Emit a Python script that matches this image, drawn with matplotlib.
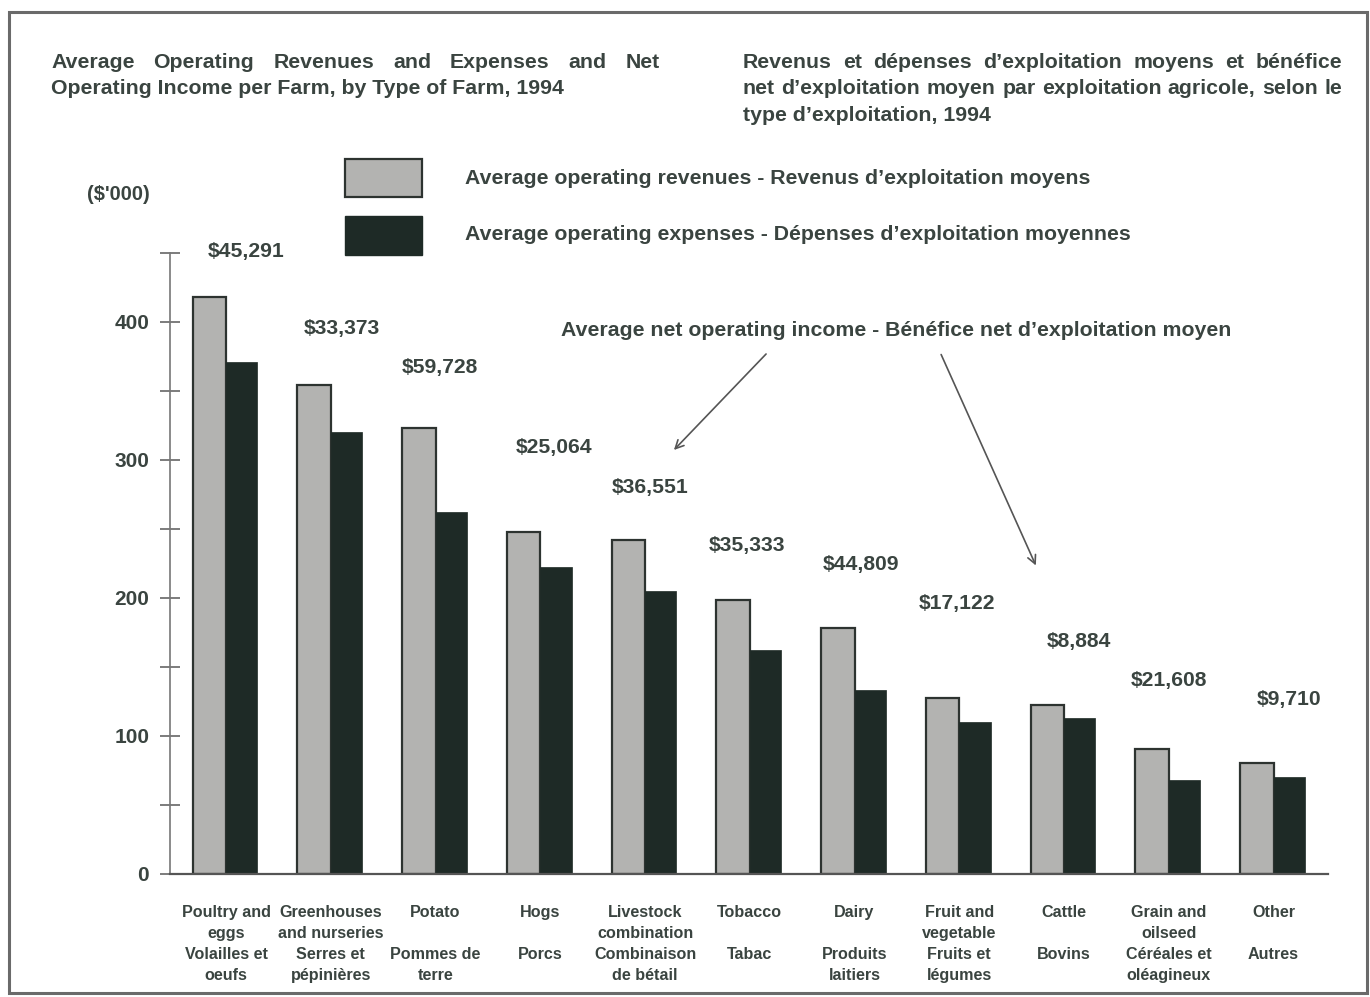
import matplotlib
matplotlib.use("Agg")
import matplotlib.pyplot as plt
from matplotlib.patches import Rectangle, FancyArrowPatch
import numpy as np

# --- data ($'000 per farm) ---
farm_types = [
    "Poultry and\neggs\nVolailles et\noeufs",
    "Greenhouses\nand nurseries\nSerres et\npépinières",
    "Potato\n\nPommes de\nterre",
    "Hogs\n\nPorcs",
    "Livestock\ncombination\nCombinaison\nde bétail",
    "Tobacco\n\nTabac",
    "Dairy\n\nProduits\nlaitiers",
    "Fruit and\nvegetable\nFruits et\nlégumes",
    "Cattle\n\nBovins",
    "Grain and\noilseed\nCéréales et\noléagineux",
    "Other\n\nAutres",
]
revenues = [418, 354, 323, 248, 242, 198, 178, 127, 122, 90, 80]
expenses = [371, 320, 262, 222, 205, 162, 133, 110, 113, 68, 70]
net_income = ["$45,291", "$33,373", "$59,728", "$25,064", "$36,551", "$35,333",
              "$44,809", "$17,122", "$8,884", "$21,608", "$9,710"]

# where the net income labels sit (data coords), staircase layout
net_label_x_off = [0.19, 0.11, 0.04, 0.13, 0.05, -0.03, 0.06, -0.02, 0.14, 0.0, 0.15]
net_label_y = [451, 395, 367, 309, 280, 238, 224, 196, 168, 140, 126]

TXT = "#3a4440"
REV = "#b3b3b1"
EXP = "#1e2a26"
FONT = "Liberation Sans"

plt.rcParams["font.family"] = [FONT, "DejaVu Sans"]

W, H = 1370, 997
fig = plt.figure(figsize=(W / 100, H / 100), dpi=100)
fig.patch.set_facecolor("white")


def fx(px):
    return px / W


def fy(py):
    return 1 - py / H


# frame around the whole figure
fig.patches.append(Rectangle((fx(9), fy(993)), fx(1358), fy(12) - fy(993),
                             transform=fig.transFigure, fill=False, edgecolor="#6a6a6a", lw=2.2))

ax = fig.add_axes([fx(170), fy(873.5), fx(1328 - 170), fy(253) - fy(873.5)])
x = np.arange(len(farm_types))
bw = 0.30
ax.bar(x - bw / 2 - 0.01, revenues, width=bw + 0.02, color=REV, edgecolor="#2d3330", lw=1.6, zorder=2)
ax.bar(x + bw / 2, expenses, width=bw, color=EXP, edgecolor=EXP, lw=0.5, zorder=2)

ax.set_xlim(-0.535, 10.52)
ax.set_ylim(0, 450)
for s in ["top", "right"]:
    ax.spines[s].set_visible(False)
ax.spines["left"].set_color("#777777")
ax.spines["bottom"].set_color("#555555")
ax.spines["left"].set_linewidth(1.2)
ax.spines["bottom"].set_linewidth(1.6)

ax.set_yticks([0, 100, 200, 300, 400])
ax.set_yticks([50, 150, 250, 350, 450], minor=True)
ax.tick_params(axis="y", which="both", direction="inout", length=14, width=1.2, color="#666666",
               labelsize=15, labelcolor=TXT, pad=8)
for t in ax.get_yticklabels():
    t.set_fontweight("bold")
ax.set_xticks(x)
ax.set_xticklabels(farm_types, fontsize=11.6, fontweight="bold", color=TXT, linespacing=1.48)
ax.tick_params(axis="x", length=0, pad=23)

for i, lab in enumerate(net_income):
    ax.text(i + net_label_x_off[i], net_label_y[i], lab, ha="center", va="center",
            fontsize=15.2, fontweight="bold", color=TXT)

fig.text(fx(150), fy(195), "($'000)", ha="right", va="center", fontsize=14.5, fontweight="bold", color=TXT)

tkw = dict(fontsize=15.3, fontweight="bold", color=TXT)

# legend
fig.patches.append(Rectangle((fx(345), fy(197)), fx(77), fy(159) - fy(197), transform=fig.transFigure,
                             facecolor=REV, edgecolor="#2d3330", lw=1.6))
fig.patches.append(Rectangle((fx(345), fy(255)), fx(77), fy(216) - fy(255), transform=fig.transFigure,
                             facecolor=EXP, edgecolor=EXP, lw=1))
fig.text(fx(465), fy(178), "Average operating revenues - Revenus d\u2019exploitation moyens",
         va="center", **tkw)
fig.text(fx(465), fy(235), "Average operating expenses - Dépenses d\u2019exploitation moyennes",
         va="center", **tkw)

# annotation with two arrows
fig.text(fx(561), fy(331), "Average net operating income - Bénéfice net d\u2019exploitation moyen",
         va="center", **tkw)
for (x0, y0), (x1, y1) in [((768, 352), (672, 452)), ((940, 352), (1037, 568))]:
    fig.add_artist(FancyArrowPatch(
        (fx(x0), fy(y0)), (fx(x1), fy(y1)), transform=fig.transFigure,
        arrowstyle="->,head_length=6,head_width=3", color="#555555", lw=1.2))


# titles, first lines justified like the print
renderer = fig.canvas.get_renderer()


def justified(words, x0, x1, y, **kw):
    arts = [fig.text(0, fy(y), w, va="center", **kw) for w in words]
    widths = [a.get_window_extent(renderer).width for a in arts]
    gap = (x1 - x0 - sum(widths)) / (len(words) - 1)
    pos = x0
    for a, w in zip(arts, widths):
        a.set_x(fx(pos))
        pos += w + gap


justified("Average Operating Revenues and Expenses and Net".split(), 51, 660, 62, **tkw)
fig.text(fx(51), fy(88), "Operating Income per Farm, by Type of Farm, 1994", va="center", **tkw)
justified("Revenus et dépenses d\u2019exploitation moyens et bénéfice".split(), 743, 1342, 62, **tkw)
justified("net d\u2019exploitation moyen par exploitation agricole, selon le".split(), 743, 1342, 88, **tkw)
fig.text(fx(743), fy(115), "type d\u2019exploitation, 1994", va="center", **tkw)

fig.savefig("out.png", dpi=100)
